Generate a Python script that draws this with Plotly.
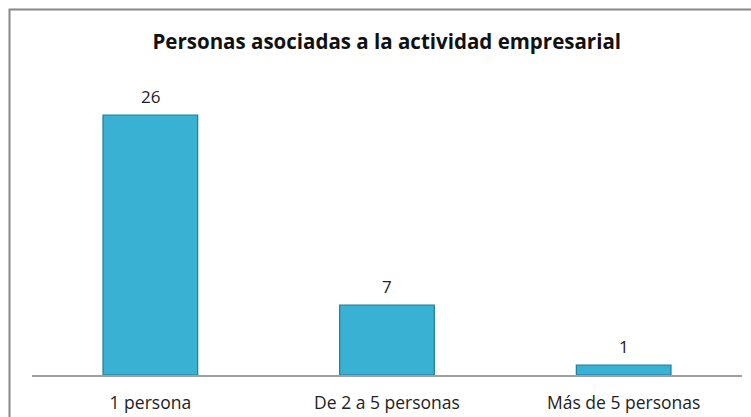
import plotly.graph_objects as go

categorias = ["1 persona", "De 2 a 5 personas", "Más de 5 personas"]
valores = [26, 7, 1]
titulo = "Personas asociadas a la actividad empresarial"

W, H = 751, 417
ml, mr, mt, mb = 32, 9, 75, 42
FONT = "Open Sans, Liberation Sans, sans-serif"

fig = go.Figure(go.Bar(
    x=categorias, y=valores,
    width=0.4,
    marker=dict(color="#38B1D3", line=dict(color="#1E7D98", width=1.2)),
    cliponaxis=False,
    hoverinfo="skip",
))

for c, v in zip(categorias, valores):
    fig.add_annotation(x=c, y=v, text=str(v), showarrow=False,
                       yanchor="middle", yshift=19,
                       font=dict(family=FONT, size=17, color="#222"))

pw = W - ml - mr
ph = H - mt - mb
fig.add_shape(type="rect", xref="paper", yref="paper",
              x0=(9.5 - ml) / pw, x1=1.2, y0=-0.3, y1=(H - mb - 9.5) / ph,
              line=dict(color="#888888", width=2), fillcolor="rgba(0,0,0,0)", layer="above")

fig.update_layout(
    width=W, height=H,
    margin=dict(l=ml, r=mr, t=mt, b=mb),
    paper_bgcolor="white", plot_bgcolor="white",
    title=dict(text="<b>" + titulo + "</b>", x=0.515, xanchor="center",
               y=1 - 42 / H, yanchor="middle",
               font=dict(family=FONT, size=20.5, color="#111")),
    showlegend=False,
    xaxis=dict(showline=True, linecolor="#A0A0A0", linewidth=1.5, ticks="", showgrid=False,
               tickfont=dict(family=FONT, size=17.5, color="#222"),
               ticklabelstandoff=11, automargin=False),
    yaxis=dict(range=[0, 30], visible=False, showgrid=False, automargin=False),
)

fig.write_html("out.html", config={"displayModeBar": False},
               post_script="document.body.style.margin='0';")
